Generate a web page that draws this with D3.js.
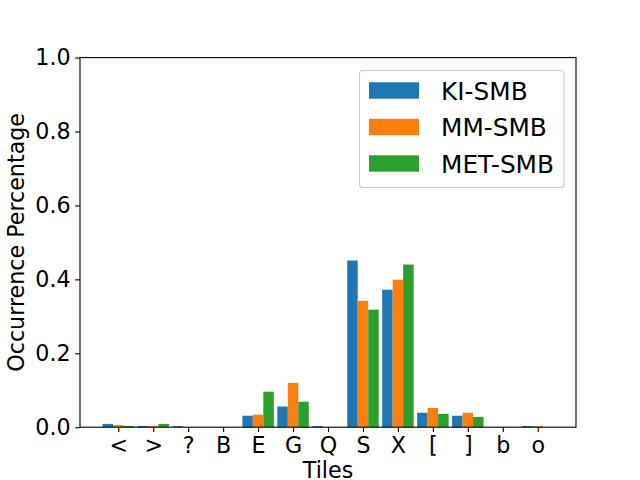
<!DOCTYPE html>
<html>
<head>
<meta charset="utf-8">
<script src="https://cdn.jsdelivr.net/npm/d3@7"></script>
<style>
html,body{margin:0;padding:0;background:#fff;}
svg{display:block;}
text{font-family:"DejaVu Sans",sans-serif;fill:#000;}
</style>
</head>
<body>
<svg id="chart" width="640" height="480"></svg>
<script>
const categories = ["<", ">", "?", "B", "E", "G", "Q", "S", "X", "[", "]", "b", "o"];
const seriesNames = ["KI-SMB", "MM-SMB", "MET-SMB"];
const kiSmb  = [0.009, 0.0035, 0.003, 0, 0.031, 0.056, 0.003, 0.451, 0.372, 0.039, 0.031, 0, 0.003];
const mmSmb  = [0.006, 0.0035, 0, 0, 0.034, 0.120, 0, 0.342, 0.399, 0.052, 0.039, 0, 0.003];
const metSmb = [0.0035, 0.009, 0, 0, 0.096, 0.069, 0, 0.318, 0.440, 0.036, 0.028, 0, 0];
const colors = ["#1f77b4", "#ff7f0e", "#2ca02c"];
const yTicks = [0, 0.2, 0.4, 0.6, 0.8, 1.0];

const series = [kiSmb, mmSmb, metSmb];
const svg = d3.select("#chart");
const L = 80, R = 576, T = 57.6, B = 427.2;
const barW = 0.3;
const n = categories.length;
const lo = -1.5 * barW, hi = (n - 1) + 1.5 * barW;
const pad = (hi - lo) * 0.05;
const x = d3.scaleLinear().domain([lo - pad, hi + pad]).range([L, R]);
const y = d3.scaleLinear().domain([0, 1]).range([B, T]);

// bars
series.forEach((vals, s) => {
  svg.append("g").selectAll("rect").data(vals).enter().append("rect")
    .attr("x", (d, i) => x(i + (s - 1) * barW - barW / 2))
    .attr("width", x(barW) - x(0))
    .attr("y", d => y(d))
    .attr("height", d => y(0) - y(d))
    .attr("fill", colors[s]);
});

// axes
const xAxis = d3.axisBottom(x)
  .tickValues(d3.range(n))
  .tickFormat(i => categories[i])
  .tickSizeOuter(0).tickSize(4.9).tickPadding(4.5);
const gx = svg.append("g").attr("transform", `translate(0,${B})`).call(xAxis);
const yAxis = d3.axisLeft(y)
  .tickValues(yTicks)
  .tickFormat(d3.format(".1f"))
  .tickSizeOuter(0).tickSize(4.9).tickPadding(4.5);
const gy = svg.append("g").attr("transform", `translate(${L},0)`).call(yAxis);
[gx, gy].forEach(g => {
  g.select(".domain").remove();
  g.selectAll(".tick line").attr("stroke", "#000").attr("stroke-width", 1.1);
  g.selectAll(".tick text").attr("font-size", "22.2px").attr("fill", "#000")
    .style("font-family", '"DejaVu Sans",sans-serif');
});
gx.selectAll(".tick text").attr("dy", "0.76em");

// spines
svg.append("rect").attr("x", L).attr("y", T).attr("width", R - L).attr("height", B - T)
  .attr("fill", "none").attr("stroke", "#000").attr("stroke-width", 1.1);

// axis labels
svg.append("text").attr("x", (L + R) / 2).attr("y", 478)
  .attr("text-anchor", "middle").attr("font-size", "22.2px").text("Tiles");
svg.append("text")
  .attr("transform", `translate(23.5,${(T + B) / 2}) rotate(-90)`)
  .attr("text-anchor", "middle").attr("font-size", "22.2px").text("Occurrence Percentage");

// legend
const lg = svg.append("g");
lg.append("rect").attr("x", 359.5).attr("y", 70.5).attr("width", 204.5).attr("height", 117)
  .attr("rx", 3).attr("fill", "#fff").attr("fill-opacity", 0.8)
  .attr("stroke", "#cccccc").attr("stroke-width", 1.1);
seriesNames.forEach((name, s) => {
  const cy = 90.5 + s * 36.5;
  lg.append("rect").attr("x", 369).attr("y", cy - 8.2).attr("width", 50).attr("height", 16.4)
    .attr("fill", colors[s]);
  lg.append("text").attr("x", 441).attr("y", cy + 9).attr("font-size", "24.8px").text(name);
});
</script>
</body>
</html>
